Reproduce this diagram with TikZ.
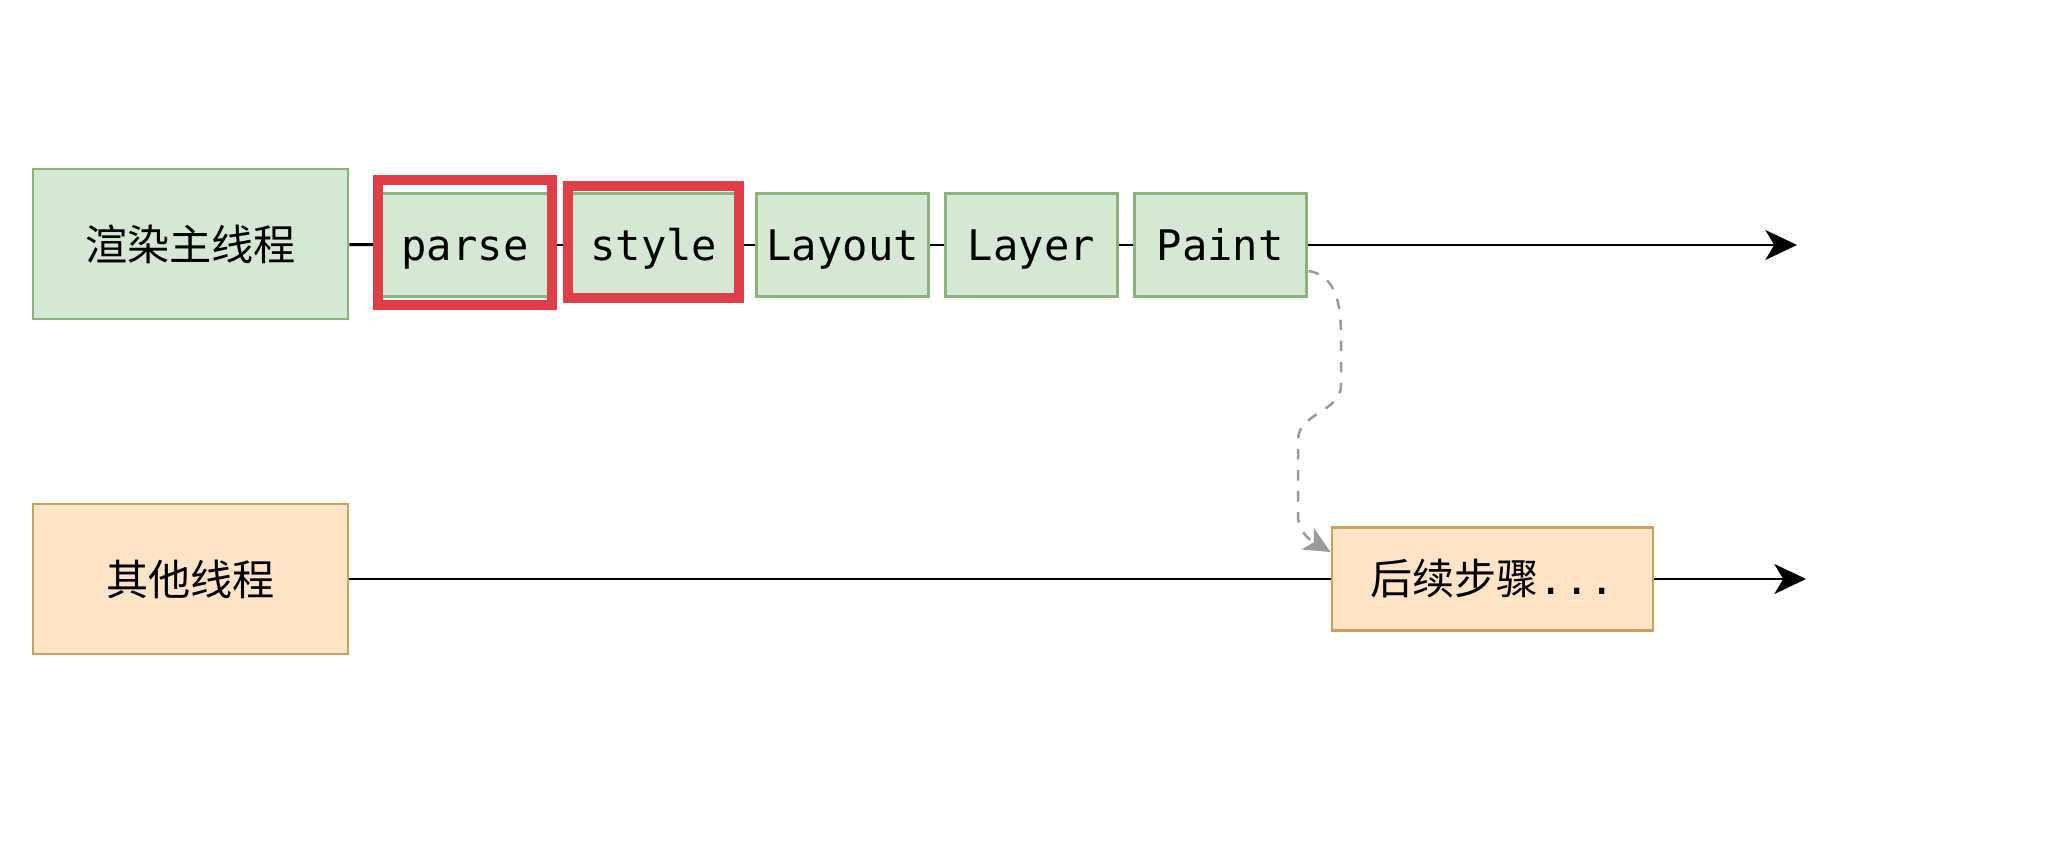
\documentclass[tikz,border=0pt]{standalone}
\usepackage{fontspec}
\setmonofont{DejaVu Sans Mono}
\newfontfamily\cjk{Noto Sans CJK SC}
\usetikzlibrary{arrows.meta, positioning, calc}

\definecolor{stepfill}{HTML}{D5E8D4}
\definecolor{stepline}{HTML}{8DB37A}
\definecolor{otherfill}{HTML}{FFE4C8}
\definecolor{otherline}{HTML}{C9A35E}
\definecolor{markred}{HTML}{DE3E47}
\definecolor{dashgray}{HTML}{9A9A9A}

\begin{document}
\begin{tikzpicture}[font=\fontsize{12}{14}\selectfont\ttfamily,
		greenbox/.style={draw=stepline, fill=stepfill, line width=0.8pt, minimum width=1.72cm, minimum height=1.03cm, inner sep=0pt, text height=2.5ex, text depth=0.5ex},
		threadbox/.style={line width=0.8pt, minimum width=3.15cm, minimum height=1.5cm, inner sep=0pt},
		flow/.style={line width=0.85pt},
		flowarrow/.style={flow, -{Stealth[length=9pt, width=8.5pt, inset=2.5pt]}},
		hilite/.style={draw=markred, line width=2.8pt}]
		\useasboundingbox (0,0) rectangle (20.62,8.6);
		
		% Render main thread (top)
		\node[threadbox, draw=stepline, fill=stepfill] (main) at (1.905,6.16) {\cjk 渲染主线程};
		\node[greenbox] (parse) at (4.65,6.15) {parse};
		\node[greenbox, right=0.14 of parse] (style) {style};
		\node[greenbox, right=0.14 of style] (layout) {Layout};
		\node[greenbox, right=0.14 of layout] (layer) {Layer};
		\node[greenbox, right=0.14 of layer] (paint) {Paint};
		\coordinate (mainend) at (17.97,6.15);
		\draw[flow] (main) -- (parse);
		\draw[flow] (parse) -- (style);
		\draw[flow] (style) -- (layout);
		\draw[flow] (layout) -- (layer);
		\draw[flow] (layer) -- (paint);
		\draw[flowarrow] (paint) -- (mainend);
		
		% Red marks
		\draw[hilite] ($(parse.south west)+(0,-0.07)$) rectangle ($(parse.north east)+(0,0.12)$);
		\draw[hilite] ($(style.south west)+(0.02,0)$) rectangle ($(style.north east)+(-0.02,0.06)$);
		
		% Other threads (bottom)
		\node[threadbox, draw=otherline, fill=otherfill] (other) at (1.905,2.81) {\cjk 其他线程};
		\node[draw=otherline, fill=otherfill, line width=0.8pt, minimum width=3.21cm, minimum height=1.03cm] (next) at (14.925,2.81) {{\cjk 后续步骤}...};
		\coordinate (otherend) at (18.06,2.81);
		\draw[flow] (other) -- (next);
		\draw[flowarrow] (next) -- (otherend);
		
		% Dashed hand-over
		\coordinate (dashstart) at ($(paint.east)+(0.01,-0.26)$);
		\coordinate (bendA) at (13.41,5.05);
		\coordinate (bendB) at (13.41,4.75);
		\coordinate (bendC) at (12.98,4.2);
		\coordinate (bendD) at (12.98,3.45);
		\coordinate (dashend) at ($(next.west)+(0,0.27)$);
		\draw[dashgray, dashed, line width=0.7pt, -{Stealth[length=7.5pt, width=7pt, inset=2pt]}] (dashstart) to[out=-10, in=90] (bendA) -- (bendB) to[out=-90, in=90] (bendC) -- (bendD) to[out=-90, in=150] (dashend);
	\end{tikzpicture}
\end{document}
